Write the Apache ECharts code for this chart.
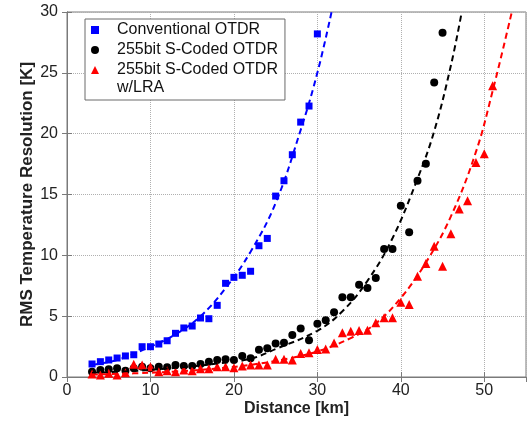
<!DOCTYPE html>
<html>
<head>
<meta charset="utf-8">
<script src="https://cdn.jsdelivr.net/npm/echarts@6/dist/echarts.min.js"></script>
<style>html,body{margin:0;padding:0;background:#fff;}#c{width:527px;height:429px;}</style>
</head>
<body>
<div id="c"></div>
<script>
// Conventional OTDR (blue squares)
const convDist = [3,4,5,6,7,8,9,10,11,12,13,14,15,16,17,18,19,20,21,22,23,24,25,26,27,28,29,30];
const convRes  = [1.07,1.26,1.40,1.56,1.73,1.83,2.49,2.49,2.71,2.98,3.59,4.03,4.19,4.85,4.79,5.89,7.70,8.19,8.36,8.69,10.79,11.39,14.87,16.13,18.27,20.95,22.27,28.2];
// 255bit S-Coded OTDR (black circles)
const codedDist = [3,4,5,6,7,8,9,10,11,12,13,14,15,16,17,18,19,20,21,22,23,24,25,26,27,28,29,30,31,32,33,34,35,36,37,38,39,40,41,42,43,44,45];
const codedRes  = [0.44,0.58,0.63,0.71,0.52,0.71,0.85,0.71,0.85,0.80,0.99,0.90,0.90,1.07,1.26,1.40,1.45,1.40,1.73,1.54,2.25,2.36,2.76,2.82,3.45,3.98,3.02,4.37,4.67,5.32,6.55,6.55,7.59,7.32,8.14,10.52,10.52,14.08,11.89,16.13,17.53,24.2,28.3];
// 255bit S-Coded OTDR w/LRA (red triangles)
const lraDist = [3,4,5,6,7,8,9,10,11,12,13,14,15,16,17,18,19,20,21,22,23,24,25,26,27,28,29,30,31,32,33,34,35,36,37,38,39,40,41,42,43,44,45,46,47,48,49,50,51];
const lraRes  = [0.25,0.16,0.30,0.16,0.35,1.04,0.99,0.85,0.44,0.52,0.44,0.58,0.52,0.68,0.68,0.85,0.85,0.76,0.90,0.99,0.99,0.99,1.45,1.45,1.40,1.93,1.99,2.26,2.31,2.80,3.63,3.76,3.82,3.84,4.45,4.86,4.86,6.14,5.95,8.28,9.32,10.74,9.10,11.78,13.81,14.49,17.64,18.35,23.93];
// Fitted dashed curves
const convFitDist = [3,6,10,13,16,19,22,25,28,30,31.7];
const convFitRes  = [1.0,1.4,2.5,3.5,5.0,7.3,10.3,14.3,20.3,25.0,30];
const codedFitDist = [3,8,13,18,22,25,30,33,36,39,42,44,46,47.3];
const codedFitRes  = [0.35,0.5,0.75,1.1,1.5,2.3,3.8,5.4,7.9,11.4,16.3,20.2,25.6,30];
const lraFitDist = [3,8,13,18,22,26,30,34,37,40,43,46,49,51,53.3];
const lraFitRes  = [0.2,0.3,0.45,0.7,1.0,1.45,2.1,3.2,4.4,6.5,9.4,13.2,18.5,23.5,30];

const xTicks = [0,10,20,30,40,50];
const yTicks = [0,5,10,15,20,25,30];

const names = ['Conventional OTDR','255bit S-Coded OTDR','255bit S-Coded OTDR w/LRA'];
const zip = (a,b)=>a.map((v,i)=>[v,b[i]]);

const FONT = 'Liberation Sans, Arial, sans-serif';
const chart = echarts.init(document.getElementById('c'), null, {renderer:'canvas'});
const baseX = {type:'value', min:0, max:55, interval:10};
const baseY = {type:'value', min:0, max:30, interval:5};
chart.setOption({
  animation:false,
  backgroundColor:'#fff',
  grid:{left:67, top:12, right:1, bottom:52, show:true, borderColor:'#7a7a7a', borderWidth:1},
  xAxis:[
    Object.assign({}, baseX, {
      position:'bottom',
      name:'Distance [km]', nameLocation:'middle', nameGap:24, nameMoveOverlap:false,
      nameTextStyle:{fontFamily:FONT, fontWeight:'bold', fontSize:16, color:'#222'},
      axisLine:{show:true, lineStyle:{color:'#7a7a7a'}},
      axisTick:{show:true, inside:true, length:5, lineStyle:{color:'#7a7a7a'}},
      axisLabel:{fontFamily:FONT, fontSize:16, color:'#222', margin:6, showMaxLabel:false,
        formatter:v=> xTicks.indexOf(v)>=0 ? String(v) : ''},
      splitLine:{show:true, lineStyle:{type:'dotted', color:'#b0b0b0', width:1}}
    }),
    Object.assign({}, baseX, {
      position:'top',
      axisLine:{show:true, lineStyle:{color:'#7a7a7a'}},
      axisTick:{show:true, inside:true, length:5, lineStyle:{color:'#7a7a7a'}},
      axisLabel:{show:false}, splitLine:{show:false}
    })
  ],
  yAxis:[
    Object.assign({}, baseY, {
      position:'left',
      name:'RMS Temperature Resolution [K]', nameLocation:'middle', nameGap:31, nameMoveOverlap:false,
      nameTextStyle:{fontFamily:FONT, fontWeight:'bold', fontSize:17, color:'#222'},
      axisLine:{show:true, lineStyle:{color:'#7a7a7a'}},
      axisTick:{show:true, inside:true, length:5, lineStyle:{color:'#7a7a7a'}},
      axisLabel:{fontFamily:FONT, fontSize:16, color:'#222', margin:9,
        formatter:v=> yTicks.indexOf(v)>=0 ? String(v) : ''},
      splitLine:{show:true, lineStyle:{type:'dotted', color:'#b0b0b0', width:1}}
    }),
    Object.assign({}, baseY, {
      position:'right',
      axisLine:{show:true, lineStyle:{color:'#7a7a7a'}},
      axisTick:{show:true, inside:true, length:5, lineStyle:{color:'#7a7a7a'}},
      axisLabel:{show:false}, splitLine:{show:false}
    })
  ],
  legend:{
    orient:'vertical', left:85, top:19,
    padding:[3,7,22,6], itemGap:4, itemWidth:8, itemHeight:8,
    borderColor:'#6a6a6a', borderWidth:1, backgroundColor:'#fff',
    textStyle:{fontFamily:FONT, fontSize:16, color:'#111', lineHeight:16, padding:[0,0,0,13]},
    data:[
      {name:names[0], icon:'rect'},
      {name:names[1], icon:'circle'},
      {name:names[2], icon:'triangle'}
    ],
    formatter: n => n === names[2] ? '255bit S-Coded OTDR' : n
  },
  graphic:[{type:'text', left:117, top:80, z:100,
    style:{text:'w/LRA', font:'16px '+FONT, fill:'#111'}}],
  series:[
    {name:names[0], type:'scatter', symbol:'rect', symbolSize:7, itemStyle:{color:'#0000ff', opacity:1}, data:zip(convDist,convRes), z:3},
    {name:names[1], type:'scatter', symbol:'circle', symbolSize:8, itemStyle:{color:'#000000', opacity:1}, data:zip(codedDist,codedRes), z:3},
    {name:names[2], type:'scatter', symbol:'triangle', symbolSize:9, itemStyle:{color:'#ff0000', opacity:1}, data:zip(lraDist,lraRes), z:3},
    {name:'fit1', type:'line', smooth:0.4, showSymbol:false, symbol:'none', lineStyle:{color:'#0000ff', width:2, type:[6,4]}, data:zip(convFitDist,convFitRes), z:4},
    {name:'fit2', type:'line', smooth:0.4, showSymbol:false, symbol:'none', lineStyle:{color:'#000000', width:2, type:[6,4]}, data:zip(codedFitDist,codedFitRes), z:4},
    {name:'fit3', type:'line', smooth:0.4, showSymbol:false, symbol:'none', lineStyle:{color:'#ff0000', width:2, type:[6,4]}, data:zip(lraFitDist,lraFitRes), z:4}
  ]
});
</script>
</body>
</html>
